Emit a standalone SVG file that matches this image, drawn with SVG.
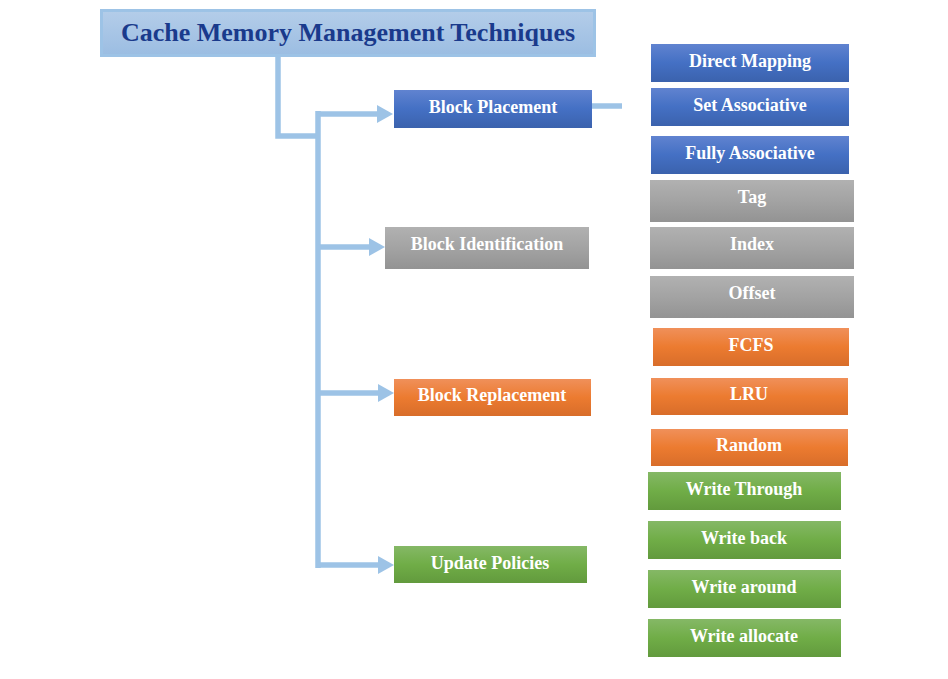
<svg xmlns="http://www.w3.org/2000/svg" width="948" height="679" viewBox="0 0 948 679">
<style>
.t{font-family:"Liberation Serif","Times New Roman",serif;font-weight:bold;font-size:18px;fill:#ffffff;text-anchor:middle}
.title{font-family:"Liberation Serif","Times New Roman",serif;font-weight:bold;font-size:26px;fill:#1a3a8c;text-anchor:middle}
.ln{fill:none;stroke:#9dc3e6;stroke-width:5.5}
.ah{fill:#9dc3e6}
</style>
<defs>
<linearGradient id="gb" x1="0" y1="0" x2="0" y2="1"><stop offset="0" stop-color="#6083d0"/><stop offset="0.5" stop-color="#4470c4"/><stop offset="1" stop-color="#3b62ad"/></linearGradient>
<linearGradient id="gg" x1="0" y1="0" x2="0" y2="1"><stop offset="0" stop-color="#b1b1b1"/><stop offset="0.5" stop-color="#a3a3a3"/><stop offset="1" stop-color="#939393"/></linearGradient>
<linearGradient id="go" x1="0" y1="0" x2="0" y2="1"><stop offset="0" stop-color="#f0905a"/><stop offset="0.5" stop-color="#ec7b30"/><stop offset="1" stop-color="#d86d2a"/></linearGradient>
<linearGradient id="gr" x1="0" y1="0" x2="0" y2="1"><stop offset="0" stop-color="#85b866"/><stop offset="0.5" stop-color="#70ad47"/><stop offset="1" stop-color="#629a3d"/></linearGradient>
<linearGradient id="gt" x1="0" y1="0" x2="0" y2="1"><stop offset="0" stop-color="#b4cde9"/><stop offset="1" stop-color="#9bbde2"/></linearGradient>
</defs>
<g id="connectors">
<path class="ln" d="M278 57 V136 H318"/>
<path class="ln" d="M318 111 V568"/>
<path class="ln" d="M318 114 H378"/>
<polygon class="ah" points="377,105 393,114 377,123"/>
<path class="ln" d="M318 247 H370"/>
<polygon class="ah" points="369,238 385,247 369,256"/>
<path class="ln" d="M318 393 H379"/>
<polygon class="ah" points="378,384 394,393 378,402"/>
<path class="ln" d="M318 565 H379"/>
<polygon class="ah" points="378,556 394,565 378,574"/>
<path class="ln" d="M592 106 H622"/>
</g>
<g id="title"><rect x="101.5" y="10.5" width="493" height="45" fill="url(#gt)" stroke="#9dc3e6" stroke-width="3"/><text class="title" x="348" y="41">Cache Memory Management Techniques</text></g>
<g id="block-placement"><rect x="394" y="90" width="198" height="38" fill="url(#gb)"/><text class="t" x="493" y="113">Block Placement</text></g>
<g id="block-identification"><rect x="385" y="227" width="204" height="42" fill="url(#gg)"/><text class="t" x="487" y="250">Block Identification</text></g>
<g id="block-replacement"><rect x="394" y="379" width="197" height="37" fill="url(#go)"/><text class="t" x="492" y="401">Block Replacement</text></g>
<g id="update-policies"><rect x="394" y="546" width="193" height="37" fill="url(#gr)"/><text class="t" x="490" y="569">Update Policies</text></g>
<g id="direct-mapping"><rect x="651" y="44" width="198" height="38" fill="url(#gb)"/><text class="t" x="750" y="67">Direct Mapping</text></g>
<g id="set-associative"><rect x="651" y="88" width="198" height="38" fill="url(#gb)"/><text class="t" x="750" y="111">Set Associative</text></g>
<g id="fully-associative"><rect x="651" y="136" width="198" height="38" fill="url(#gb)"/><text class="t" x="750" y="159">Fully Associative</text></g>
<g id="tag"><rect x="650" y="180" width="204" height="42" fill="url(#gg)"/><text class="t" x="752" y="203">Tag</text></g>
<g id="index"><rect x="650" y="227" width="204" height="42" fill="url(#gg)"/><text class="t" x="752" y="250">Index</text></g>
<g id="offset"><rect x="650" y="276" width="204" height="42" fill="url(#gg)"/><text class="t" x="752" y="299">Offset</text></g>
<g id="fcfs"><rect x="653" y="328" width="196" height="38" fill="url(#go)"/><text class="t" x="751" y="351">FCFS</text></g>
<g id="lru"><rect x="651" y="378" width="197" height="37" fill="url(#go)"/><text class="t" x="749" y="400">LRU</text></g>
<g id="random"><rect x="651" y="429" width="197" height="37" fill="url(#go)"/><text class="t" x="749" y="451">Random</text></g>
<g id="write-through"><rect x="648" y="472" width="193" height="38" fill="url(#gr)"/><text class="t" x="744" y="495">Write Through</text></g>
<g id="write-back"><rect x="648" y="521" width="193" height="38" fill="url(#gr)"/><text class="t" x="744" y="544">Write back</text></g>
<g id="write-around"><rect x="648" y="570" width="193" height="38" fill="url(#gr)"/><text class="t" x="744" y="593">Write around</text></g>
<g id="write-allocate"><rect x="648" y="619" width="193" height="38" fill="url(#gr)"/><text class="t" x="744" y="642">Write allocate</text></g>
</svg>
